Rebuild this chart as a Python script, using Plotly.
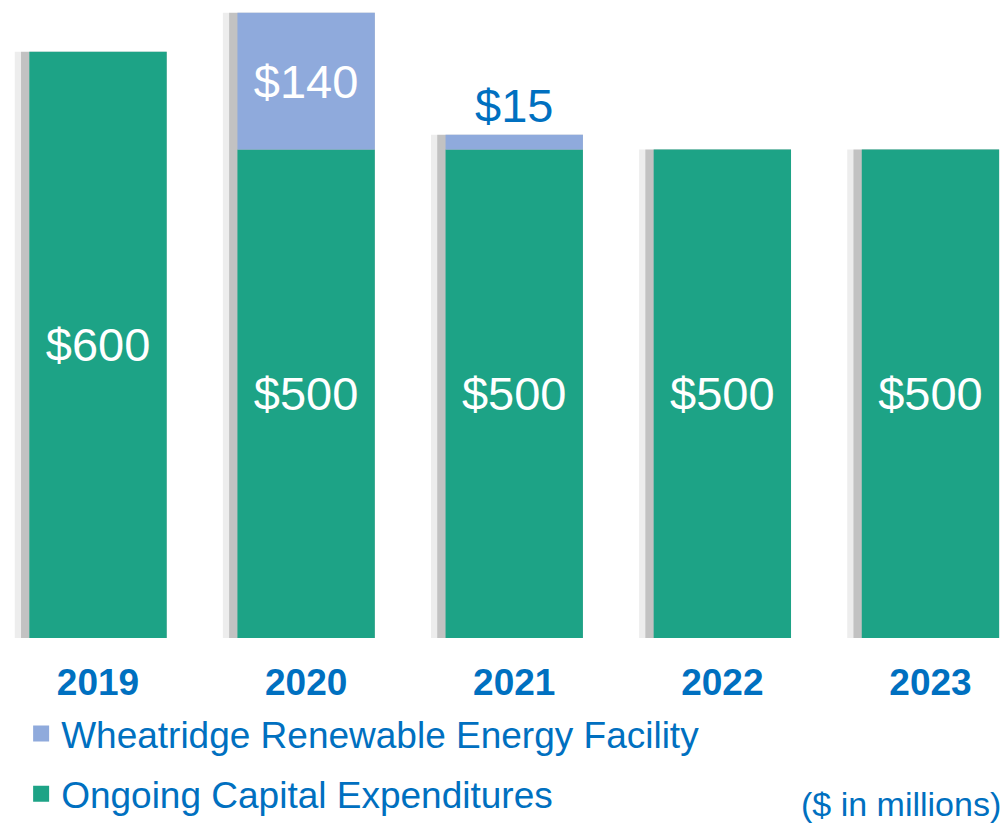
import plotly.graph_objects as go

years = ["2019", "2020", "2021", "2022", "2023"]
ongoing = [600, 500, 500, 500, 500]
wheatridge = [None, 140, 15, None, None]
wheat_textpos = ["none", "inside", "outside", "none", "none"]

GREEN = "#1DA386"
LIGHT = "#8FAADC"
BLUE = "#0070C0"
FONT = "Liberation Sans, Arial, sans-serif"

totals = [o + (w or 0) for o, w in zip(ongoing, wheatridge)]

fig = go.Figure()
# soft drop-shadow behind each bar (left edge)
for col, wid, off in [("rgba(0,0,0,0.07)", 0.73, -0.365 - 0.035),
                      ("rgba(0,0,0,0.18)", 0.70, -0.35 - 0.02)]:
    fig.add_trace(go.Bar(
        x=years, y=totals, base=0, width=wid, offset=off,
        marker=dict(color=col, line=dict(width=0)),
        showlegend=False, hoverinfo="skip",
    ))
fig.add_trace(go.Bar(
    x=years, y=ongoing, base=0, marker=dict(color=GREEN, line=dict(width=0)),
    text=[f"${v}" for v in ongoing], textposition="inside",
    insidetextanchor="middle", constraintext="none",
    insidetextfont=dict(color="white", size=47, family=FONT),
    showlegend=False, hoverinfo="skip", cliponaxis=False,
))
fig.add_trace(go.Bar(
    x=years, y=wheatridge, base=ongoing, marker=dict(color=LIGHT, line=dict(width=0)),
    text=[f"${v}" if v else "" for v in wheatridge], textposition=wheat_textpos,
    insidetextanchor="middle", constraintext="none",
    insidetextfont=dict(color="white", size=47, family=FONT),
    outsidetextfont=dict(color=BLUE, size=47, family=FONT),
    showlegend=False, hoverinfo="skip", cliponaxis=False,
))
# legend entries
fig.add_trace(go.Scatter(
    x=[None], y=[None], mode="markers", name="Wheatridge Renewable Energy Facility",
    marker=dict(symbol="square", size=19, color=LIGHT), legendgroup="a",
))
fig.add_trace(go.Scatter(
    x=[None], y=[None], mode="markers", name="Ongoing Capital Expenditures",
    marker=dict(symbol="square", size=19, color=GREEN), legendgroup="b",
))

fig.update_layout(
    width=1006, height=825,
    margin=dict(l=0, r=0, t=0, b=187),
    paper_bgcolor="white", plot_bgcolor="white",
    barmode="overlay", bargap=0.34,
    font=dict(family=FONT, color=BLUE),
    legend=dict(
        x=0.021, y=-0.2931, xanchor="left", yanchor="bottom",
        font=dict(size=37, color=BLUE, family=FONT),
        traceorder="grouped", tracegroupgap=9,
        bgcolor="rgba(0,0,0,0)",
    ),
    xaxis=dict(
        type="category", range=[-0.471, 4.363],
        showgrid=False, zeroline=False, showline=False, ticks="",
        tickfont=dict(size=37, color=BLUE, family=FONT, weight="bold"),
        ticklabelstandoff=19,
    ),
    yaxis=dict(range=[0, 653], visible=False, showgrid=False),
    annotations=[dict(
        text="($ in millions)", xref="paper", yref="paper",
        x=0.996, y=-0.2915, xanchor="right", yanchor="bottom",
        borderpad=0, showarrow=False, font=dict(size=34, color=BLUE, family=FONT),
    )],
)

fig.write_html(
    "out.html",
    config={"displayModeBar": False},
    post_script="document.body.style.margin='0';"
                "document.documentElement.style.overflow='hidden';"
                "document.body.style.overflow='hidden';",
)
